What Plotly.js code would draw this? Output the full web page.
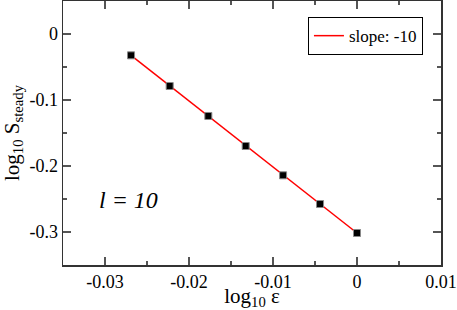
<!DOCTYPE html>
<html>
<head>
<meta charset="utf-8">
<script src="https://cdn.plot.ly/plotly-3.0.1.min.js"></script>
<style>html,body{margin:0;padding:0;background:#fff;}#chart{width:457px;height:310px;}</style>
</head>
<body>
<div id="chart"></div>
<script>
// Data
const logEps = [-0.0269, -0.0223, -0.0177, -0.01325, -0.0088, -0.0044, 0.0];
const logS = [-0.0323, -0.0788, -0.1242, -0.1697, -0.2141, -0.2576, -0.3015];
const slope = -10;
const xTicks = [-0.03, -0.02, -0.01, 0, 0.01];
const xTickLabels = ['-0.03', '-0.02', '-0.01', '0', '0.01'];
const yTicks = [0, -0.1, -0.2, -0.3];
const yTickLabels = ['0', '-0.1', '-0.2', '-0.3'];

// Fit line with slope -10 through the last point
const intercept = logS[logS.length - 1] - slope * logEps[logEps.length - 1];
const fitX = [logEps[0], logEps[logEps.length - 1]];
const fitY = fitX.map(x => intercept + slope * x);

const serif = 'Liberation Serif';

const traces = [
  {
    x: fitX, y: fitY, mode: 'lines', name: 'slope: -10',
    line: {color: '#ff0000', width: 1.5}
  },
  {
    x: logEps, y: logS, mode: 'markers', showlegend: false,
    marker: {symbol: 'square', size: 7, color: '#000', line: {color: '#888', width: 1}}
  }
];

const axisCommon = {
  showline: true, linecolor: '#333', linewidth: 1.5, mirror: 'ticks',
  ticks: 'inside', ticklen: 8, tickwidth: 1.5, tickcolor: '#555',
  showgrid: false, zeroline: false,
  tickfont: {family: serif, size: 18, color: '#000'}
};

const layout = {
  width: 457, height: 310,
  margin: {l: 63, r: 16, t: 1, b: 45},
  paper_bgcolor: '#fff', plot_bgcolor: '#fff',
  font: {family: serif, color: '#000'},
  xaxis: Object.assign({}, axisCommon, {
    range: [-0.035, 0.01], tickvals: xTicks, ticktext: xTickLabels,
    minor: {dtick: 0.005, tick0: 0, ticks: 'inside', ticklen: 4, tickcolor: '#555', tickwidth: 1.5},
    title: {text: 'log<sub>10</sub> ε', font: {family: serif, size: 21, color: '#000'}, standoff: 5}
  }),
  yaxis: Object.assign({}, axisCommon, {
    range: [-0.35, 0.05], tickvals: yTicks, ticktext: yTickLabels,
    minor: {dtick: 0.05, tick0: 0, ticks: 'inside', ticklen: 4, tickcolor: '#555', tickwidth: 1.5},
    title: {text: 'log<sub>10</sub> S<sub>steady</sub>', font: {family: serif, size: 21, color: '#000'}, standoff: 6}
  }),
  legend: {
    x: 0.648, y: 0.939, xanchor: 'left', yanchor: 'top',
    bordercolor: '#000', borderwidth: 1, bgcolor: '#fff',
    font: {family: serif, size: 17, color: '#000'},
    itemwidth: 30, tracegroupgap: 0
  },
  annotations: [{
    xref: 'paper', yref: 'paper', x: 0.172, y: 0.246, xanchor: 'center', yanchor: 'middle',
    showarrow: false,
    text: '<i>l = 10</i>', font: {family: serif, size: 24, color: '#000'}
  }]
};

Plotly.newPlot('chart', traces, layout, {displayModeBar: false, staticPlot: true});
</script>
</body>
</html>
